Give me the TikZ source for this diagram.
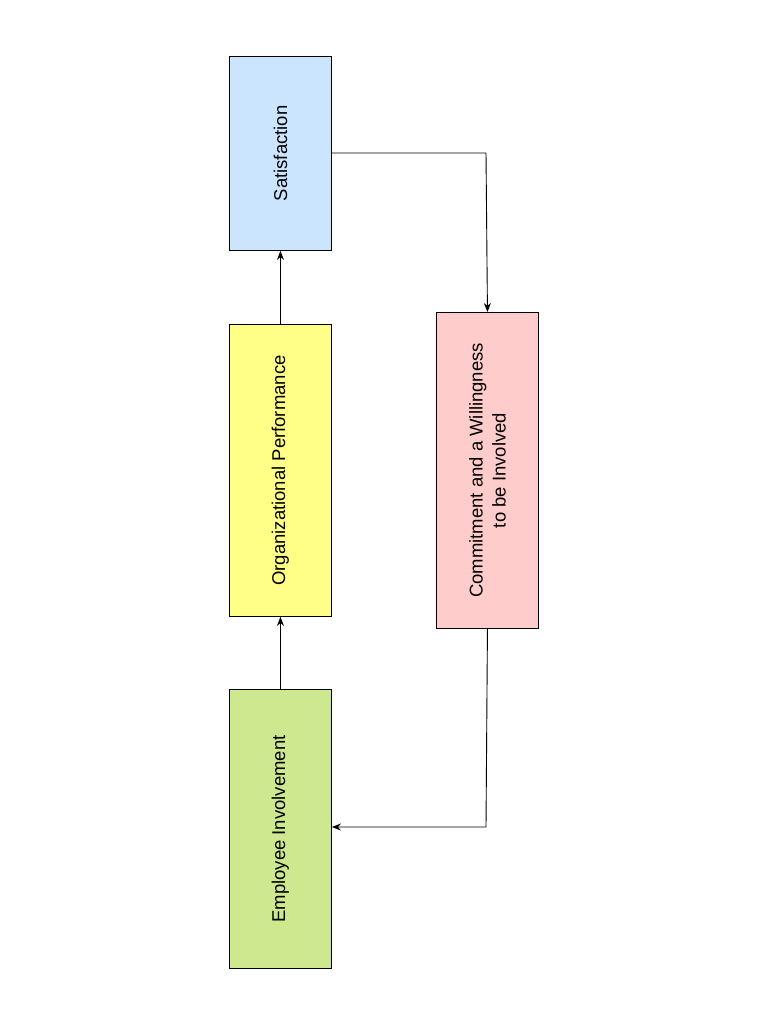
\documentclass[tikz,border=0pt]{standalone}
\usepackage{fontspec}
\setmainfont{Liberation Sans}
\usetikzlibrary{arrows.meta}
\definecolor{cblue}{HTML}{CCE5FF}
\definecolor{cyel}{HTML}{FFFF88}
\definecolor{cgreen}{HTML}{CDE88E}
\definecolor{cpink}{HTML}{FFCCCC}
\begin{document}
\begin{tikzpicture}[x=1pt,y=-1pt,
  box/.style={draw=black,line width=0.9pt,inner sep=0pt,anchor=north west,font=\fontsize{18.5}{22}\selectfont,align=center},
  conn/.style={line width=0.9pt,-{Stealth[length=9pt,width=7pt]}}]
\useasboundingbox (0,0) rectangle (768,1024);
\node[box,fill=cblue,minimum width=102pt,minimum height=194pt] (sat) at (229,56) {};
\node[rotate=90,font=\fontsize{18.5}{22}\selectfont] at (sat.center) {Satisfaction};
\node[box,fill=cyel,minimum width=102pt,minimum height=292pt] (org) at (229,324) {};
\node[rotate=90,font=\fontsize{18.5}{22}\selectfont] at (org.center) {Organizational Performance};
\node[box,fill=cgreen,minimum width=102pt,minimum height=279pt] (emp) at (229,689) {};
\node[rotate=90,font=\fontsize{18.5}{22}\selectfont] at (emp.center) {Employee Involvement};
\node[box,fill=cpink,minimum width=102pt,minimum height=316pt] (com) at (436,312) {};
\node[rotate=90,font=\fontsize{18.5}{23}\selectfont,align=center] at (com.center) {Commitment and a Willingness\\to be Involved};
\draw[conn] (emp.north) -- (org.south);
\draw[conn] (org.north) -- (sat.south);
\coordinate (c1) at (486,153);
\coordinate (c2) at (486,827);
\draw[conn] (sat.east |- c1) -- (c1) -- (com.north);
\draw[conn] (com.south) -- (c2) -- (emp.east |- c2);
\end{tikzpicture}
\end{document}
